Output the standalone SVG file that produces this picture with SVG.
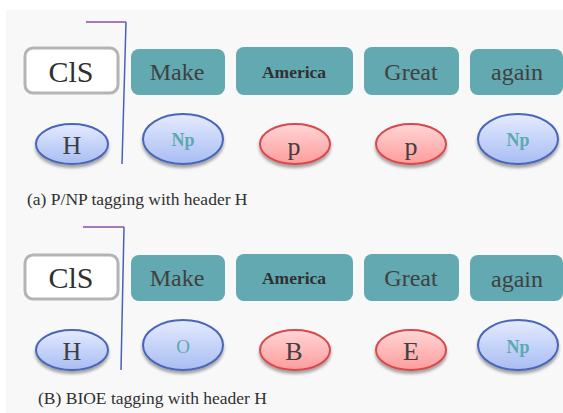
<svg xmlns="http://www.w3.org/2000/svg" width="563" height="413" viewBox="0 0 563 413" font-family="'Liberation Serif', 'Times New Roman', serif">
<defs>
<linearGradient id="gb" x1="0" y1="0" x2="0" y2="1"><stop offset="0" stop-color="#e4ebff"/><stop offset="1" stop-color="#a9bdf3"/></linearGradient>
<linearGradient id="gr" x1="0" y1="0" x2="0" y2="1"><stop offset="0" stop-color="#ffd6d6"/><stop offset="1" stop-color="#ff9c9c"/></linearGradient>
<filter id="sh" x="-20%" y="-20%" width="140%" height="150%"><feGaussianBlur in="SourceAlpha" stdDeviation="1.5"/><feOffset dy="2.5"/><feComponentTransfer><feFuncA type="linear" slope="0.35"/></feComponentTransfer><feMerge><feMergeNode/><feMergeNode in="SourceGraphic"/></feMerge></filter>
</defs>
<style>
.cls{fill:#fff;stroke:#b4b4b4;stroke-width:3}
.tok{fill:#62a9b1}
.eb{fill:url(#gb);stroke:#4a66b8;stroke-width:2;filter:url(#sh)}
.er{fill:url(#gr);stroke:#d9484c;stroke-width:2;filter:url(#sh)}
text{font-family:'Liberation Serif','Times New Roman',serif;fill:#404040;text-anchor:middle}
.w{font-size:24px}
.b{font-size:17.5px;font-weight:bold;fill:#303030}
.c{font-size:30px;fill:#303030}
.l{font-size:26px}
.t{font-size:18px;font-weight:bold;fill:#5aaab0}
.o{font-size:19px;fill:#5aaab0}
.cap{font-size:17.5px;text-anchor:start;fill:#303030}
.hp{stroke:#8a4fa8;stroke-width:1.5;fill:none}
.vb{stroke:#4a60b8;stroke-width:1.5;fill:none}
</style>
<rect x="0" y="0" width="563" height="413" fill="#ffffff"/>
<rect x="6" y="10" width="557" height="403" fill="#f8f8f8"/>
<g id="connectors">
<line class="hp" x1="86" y1="22" x2="126" y2="22"/>
<line class="vb" x1="126" y1="22" x2="122" y2="164"/>
<line class="hp" x1="83" y1="227" x2="124" y2="227"/>
<line class="vb" x1="124" y1="227" x2="121" y2="370"/>
</g>
<g id="a-cls"><rect class="cls" x="25" y="48" width="93" height="45" rx="8"/><text class="c" x="71" y="82">ClS</text></g>
<g id="a-make"><rect class="tok" x="131" y="49" width="94" height="46" rx="8"/><text class="w" x="177" y="80">Make</text></g>
<g id="a-america"><rect class="tok" x="236" y="47" width="117" height="48" rx="8"/><text class="b" x="294" y="78">America</text></g>
<g id="a-great"><rect class="tok" x="364" y="47" width="95" height="48" rx="8"/><text class="w" x="411" y="80">Great</text></g>
<g id="a-again"><rect class="tok" x="470" y="49" width="93" height="46" rx="8"/><text class="w" x="517" y="80">again</text></g>
<g id="a-h"><ellipse class="eb" cx="72" cy="144" rx="36" ry="20"/><text class="l" x="72" y="154">H</text></g>
<g id="a-np1"><ellipse class="eb" cx="183" cy="139" rx="40" ry="25"/><text class="t" x="183" y="146">Np</text></g>
<g id="a-p1"><ellipse class="er" cx="295" cy="144" rx="35" ry="20"/><text class="l" x="294" y="155">p</text></g>
<g id="a-p2"><ellipse class="er" cx="411" cy="144" rx="35" ry="20"/><text class="l" x="411" y="155">p</text></g>
<g id="a-np2"><ellipse class="eb" cx="518" cy="139" rx="40" ry="25"/><text class="t" x="518" y="146">Np</text></g>
<text class="cap" x="27" y="205">(a) P/NP tagging with header H</text>
<g id="b-cls"><rect class="cls" x="25" y="255" width="93" height="44" rx="8"/><text class="c" x="71" y="288">ClS</text></g>
<g id="b-make"><rect class="tok" x="131" y="255" width="94" height="46" rx="8"/><text class="w" x="177" y="286">Make</text></g>
<g id="b-america"><rect class="tok" x="236" y="254" width="117" height="47" rx="8"/><text class="b" x="294" y="284">America</text></g>
<g id="b-great"><rect class="tok" x="364" y="254" width="95" height="47" rx="8"/><text class="w" x="411" y="286">Great</text></g>
<g id="b-again"><rect class="tok" x="470" y="255" width="93" height="46" rx="8"/><text class="w" x="517" y="287">again</text></g>
<g id="b-h"><ellipse class="eb" cx="72" cy="350" rx="36" ry="20"/><text class="l" x="72" y="360">H</text></g>
<g id="b-o"><ellipse class="eb" cx="183" cy="345" rx="40" ry="25"/><text class="o" x="183" y="353">O</text></g>
<g id="b-b"><ellipse class="er" cx="295" cy="350" rx="35" ry="20"/><text class="l" x="294" y="360">B</text></g>
<g id="b-e"><ellipse class="er" cx="411" cy="350" rx="35" ry="20"/><text class="l" x="411" y="360">E</text></g>
<g id="b-np"><ellipse class="eb" cx="518" cy="345" rx="40" ry="25"/><text class="t" x="518" y="353">Np</text></g>
<text class="cap" x="38" y="404">(B) BIOE tagging  with header H</text>
</svg>
